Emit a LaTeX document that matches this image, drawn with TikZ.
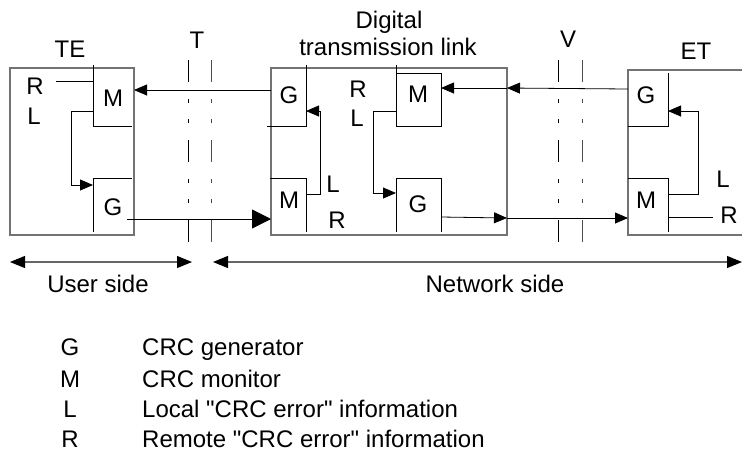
\documentclass[tikz,border=0pt]{standalone}
\usepackage{fontspec}
\setmainfont{Liberation Sans}
\usetikzlibrary{arrows.meta}

\tikzset{
  txt/.style={font=\fontsize{24}{27}\selectfont, inner sep=0pt, anchor=base},
  frame/.style={draw=black!55, line width=1.1pt},
  wire/.style={line width=0.8pt},
  sig/.style={wire, -{Triangle[length=13pt,width=11pt]}},
  bigsig/.style={wire, -{Triangle[length=19pt,width=19pt]}},
  refline/.style={line width=0.8pt, dash pattern=on 22pt off 17pt on 4pt off 16pt on 4pt off 17pt},
  side/.style={draw=black!60, line width=1.1pt, {Triangle[length=15pt,width=12pt,color=black]}-{Triangle[length=15pt,width=12pt,color=black]}},
}

\begin{document}
\begin{tikzpicture}[x=1pt,y=-1pt]
    \useasboundingbox (0,0) rectangle (742,451);

    % Boxes
    \draw[frame] (10,68) rectangle (134,235);
    \draw[frame] (271,68) rectangle (507,235);
    \draw[frame] (742,70) -- (628,70) -- (628,235) -- (742,235);

    % Blocks
    \draw[wire] (93,65) -- (93,126) -- (132,126);
    \draw[wire] (132,178) -- (93,178) -- (93,232);
    \draw[wire] (267,126) -- (306,126) -- (306,65);
    \draw[wire] (270,178) -- (306,178) -- (306,232);
    \draw[wire] (396,65) -- (396,126) -- (441,126) -- (441,73) -- (396,73);
    \draw[wire] (396,232) -- (396,178) -- (441,178) -- (441,232);
    \draw[wire] (628,126) -- (668,126) -- (668,73);
    \draw[wire] (628,178) -- (668,178) -- (668,232);

    % Reference points
    \draw[refline] (188,60) -- (188,245);
    \draw[refline, black!70] (211,60) -- (211,245);
    \draw[refline] (558,60) -- (558,245);
    \draw[refline, black!70] (582,60) -- (582,245);

    % Labels
    \node[txt] (te) at (70,57) {TE};
    \node[txt] (tref) at (197,48) {T};
    \node[txt] (dtl1) at (389,28) {Digital};
    \node[txt] (dtl2) at (388,55) {transmission link};
    \node[txt] (vref) at (568,47) {V};
    \node[txt] (et) at (696,59) {ET};

    \node[txt] (teR) at (35,94) {R};
    \node[txt] (teL) at (34,124) {L};
    \node[txt] (teM) at (113,106) {M};
    \node[txt] (teG) at (113,215) {G};

    \node[txt] (dtlG) at (289,103) {G};
    \node[txt] (dtlM) at (289,208) {M};
    \node[txt] (dtlLa) at (333,192) {L};
    \node[txt] (dtlRa) at (337,228) {R};
    \node[txt] (dtlRb) at (358,97) {R};
    \node[txt] (dtlLb) at (357,126) {L};
    \node[txt] (dtlMb) at (418,102) {M};
    \node[txt] (dtlGb) at (418,212) {G};

    \node[txt] (etG) at (646,103) {G};
    \node[txt] (etM) at (646,208) {M};
    \node[txt] (etL) at (723,187) {L};
    \node[txt] (etR) at (729,223) {R};

    \node[txt] (user) at (98,292) {User side};
    \node[txt] (net) at (495,292) {Network side};

    % Legend
    \node[txt] (kG) at (70,355) {G};
    \node[txt] (kM) at (70,387) {M};
    \node[txt] (kL) at (70,417) {L};
    \node[txt] (kR) at (70,447) {R};
    \node[txt, anchor=base west] (dG) at (142,355) {CRC generator};
    \node[txt, anchor=base west] (dM) at (142,387) {CRC monitor};
    \node[txt, anchor=base west] (dL) at (142,417) {Local \textquotedbl CRC error\textquotedbl{} information};
    \node[txt, anchor=base west] (dR) at (142,447) {Remote \textquotedbl CRC error\textquotedbl{} information};

    % Connection points
    \coordinate (teRend) at (56,81);
    \coordinate (teRin) at (93,81);
    \coordinate (teMout) at (93,111);
    \coordinate (teGin) at (93,185);
    \coordinate (teMin) at (134,90);
    \coordinate (teGout) at (127,219);
    \coordinate (dtlGout) at (271,90);
    \coordinate (dtlMin) at (271,219);
    \coordinate (dtlMout) at (306,194);
    \coordinate (dtlGin) at (306,111);
    \coordinate (dtlMbout) at (396,111);
    \coordinate (dtlGbin) at (396,193);
    \coordinate (dtlMbin) at (441,88);
    \coordinate (dtlGbout) at (441,217);
    \coordinate (dtlEin) at (507,88);
    \coordinate (dtlEout) at (507,218);
    \coordinate (etGout) at (628,89);
    \coordinate (etMin) at (628,218);
    \coordinate (etMout) at (668,194);
    \coordinate (etGin) at (668,111);
    \coordinate (etRout) at (668,217);
    \coordinate (etRend) at (713,217);
    \coordinate (userA) at (10,262);
    \coordinate (userB) at (192,262);
    \coordinate (netA) at (213,262);
    \coordinate (netB) at (742,262);

    % Connection
    \draw[wire] (teRend) -- (teRin);
    \draw[sig] (teMout) -| (71,185) -- (teGin);
    \draw[sig] (dtlGout) -- (teMin);
    \draw[bigsig] (teGout) -- (dtlMin);
    \draw[sig] (dtlMout) -| (320,111) -- (dtlGin);
    \draw[sig] (dtlMbout) -| (373,193) -- (dtlGbin);
    \draw[sig] (etGout) -- (dtlEin);
    \draw[sig] (dtlEin) -- (dtlMbin);
    \draw[sig] (dtlGbout) -- (dtlEout);
    \draw[sig] (dtlEout) -- (etMin);
    \draw[sig] (etMout) -| (698,111) -- (etGin);
    \draw[wire] (etRout) -- (etRend);
    \draw[side] (userA) -- (userB);
    \draw[side] (netA) -- (netB);
\end{tikzpicture}
\end{document}
